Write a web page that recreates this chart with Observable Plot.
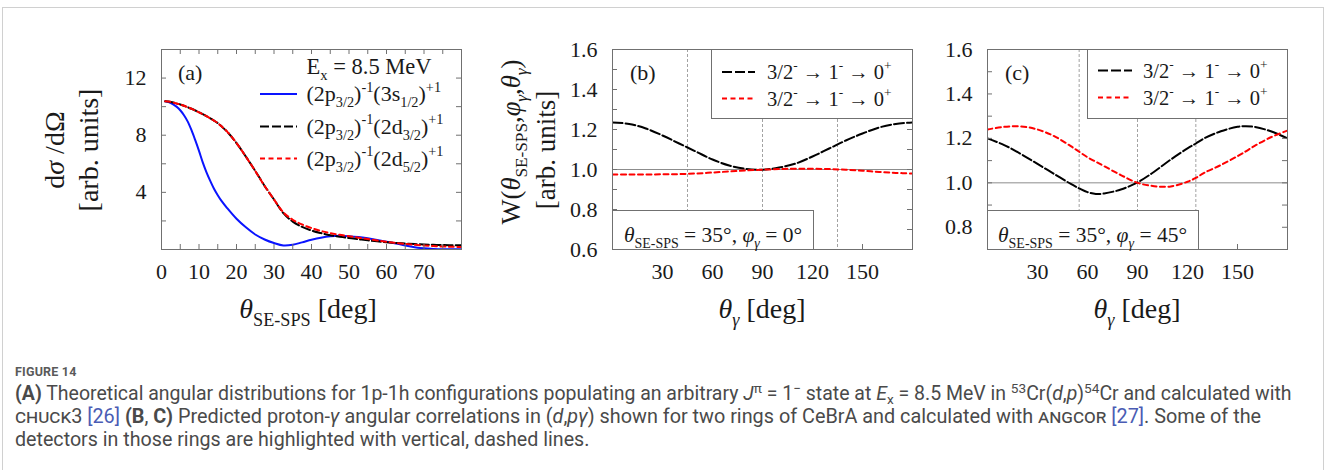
<!DOCTYPE html>
<html>
<head>
<meta charset="utf-8">
<script src="https://cdn.jsdelivr.net/npm/d3@7"></script>
<script src="https://cdn.jsdelivr.net/npm/@observablehq/plot@0.6"></script>
<style>
html,body{margin:0;padding:0;background:#fff;}
#root{position:relative;width:1326px;height:470px;overflow:hidden;background:#fff;}
#card{position:absolute;left:2px;top:7px;width:1322px;height:600px;border:1px solid #d0d0d0;box-sizing:border-box;}
#cap{position:absolute;left:15px;top:361px;font-family:Roboto,"Open Sans",sans-serif;color:#4a4a4a;}
.fig{font-size:12.5px;font-weight:700;color:#5a5a5a;letter-spacing:0.2px;height:21px;line-height:21px;}
.cl{font-size:16px;white-space:nowrap;height:23px;line-height:23px;}
.cl sup,.cl sub{font-size:0.7em;position:relative;vertical-align:baseline;}
.cl sup{top:-0.5em;}
.cl sub{top:0.3em;}
.ref{color:#4a5cb4;}
.sc{font-variant:small-caps;}
</style>
</head>
<body>
<div id="root">
  <div id="card"></div>
  <div id="cap">
    <div class="fig">FIGURE 14</div>
    <div class="cl" id="l1"><b>(A)</b> Theoretical angular distributions for 1p-1h configurations populating an arbitrary <i>J</i><sup>π</sup> = 1<sup>−</sup> state at <i>E</i><sub>x</sub> = 8.5 MeV in <sup>53</sup>Cr(<i>d</i>,<i>p</i>)<sup>54</sup>Cr and calculated with</div>
    <div class="cl" id="l2"><span class="sc">chuck3</span> <span class="ref">[26]</span> <b>(B</b>, <b>C)</b> Predicted proton-<i>γ</i> angular correlations in (<i>d</i>,<i>pγ</i>) shown for two rings of CeBrA and calculated with <span class="sc">angcor</span> <span class="ref">[27]</span>. Some of the</div>
    <div class="cl" id="l3">detectors in those rings are highlighted with vertical, dashed lines.</div>
  </div>
</div>
<script>
// ---------------- data ----------------
// Panel (a): dσ/dΩ vs θ_SE-SPS
const thetaA = [1,2.5,4,5,6,7,8,9,10,11,12,13,14,15,16,17.5,20,22.5,25,27.5,30,32.5,35,37.5,40,42.5,45,47.5,50,52.5,55,57.5,60,62.5,65,67.5,70,72.5,75,77.5,80];
const sig3s12 = [10.37,10.25,10.0,9.75,9.4,8.95,8.35,7.65,6.9,6.1,5.4,4.8,4.25,3.8,3.4,2.9,2.15,1.55,1.05,0.7,0.45,0.28,0.33,0.5,0.68,0.83,0.93,0.96,0.93,0.87,0.78,0.67,0.55,0.42,0.28,0.16,0.08,0.04,0.02,0.02,0.02];
const sig2d32 = [10.37,10.33,10.22,10.15,10.06,9.96,9.85,9.73,9.6,9.47,9.33,9.18,9.02,8.85,8.62,8.25,7.45,6.5,5.5,4.45,3.5,2.55,1.95,1.58,1.33,1.15,1.0,0.9,0.8,0.72,0.64,0.57,0.51,0.46,0.42,0.38,0.35,0.33,0.31,0.3,0.29];
const sig2d52 = [10.37,10.33,10.22,10.15,10.06,9.96,9.85,9.73,9.6,9.47,9.33,9.18,9.02,8.85,8.62,8.25,7.45,6.5,5.5,4.45,3.5,2.6,2.08,1.75,1.5,1.3,1.15,1.03,0.93,0.83,0.73,0.63,0.54,0.46,0.39,0.33,0.28,0.24,0.21,0.19,0.18];
const aXTicks = [0,10,20,30,40,50,60,70];
const aXMinor = [5,10,15,20,25,30,35,40,45,50,55,60,65,70,75];
const aYTicks = [4,8,12];
const aYMinor = [2,4,6,8,10,12];

// Panel (b): W at φγ = 0°
const thetaB = [0,10,20,30,40,50,60,70,80,90,100,110,120,130,140,150,160,170,180];
const wB_black = [1.235,1.228,1.205,1.17,1.13,1.09,1.05,1.02,1.003,0.999,1.01,1.03,1.065,1.105,1.145,1.18,1.21,1.228,1.235];
const wB_red = [0.975,0.975,0.975,0.976,0.977,0.98,0.985,0.99,0.995,0.999,1.002,1.004,1.004,1.002,0.999,0.994,0.988,0.983,0.98];
const detB = [45,90,135];

// Panel (c): W at φγ = 45°
const thetaC = [0,10,20,30,40,50,55,60,65,70,80,90,100,110,120,125,130,140,150,155,160,170,180];
const wC_black = [1.2,1.17,1.13,1.085,1.04,0.995,0.975,0.958,0.95,0.952,0.97,1.002,1.05,1.105,1.155,1.177,1.2,1.232,1.252,1.255,1.252,1.232,1.2];
const wC_red = [1.24,1.252,1.254,1.24,1.21,1.165,1.14,1.115,1.095,1.075,1.035,1.0,0.985,0.984,1.005,1.022,1.045,1.08,1.12,1.142,1.165,1.205,1.235];
const detC = [55,90,125];

const gXTicks = [30,60,90,120,150];
const gXMinor = [30,60,90,120,150];
const bYTicks = [0.6,0.8,1.0,1.2,1.4,1.6];
const bYMinor = [0.7,0.8,0.9,1.0,1.1,1.2,1.3,1.4,1.5];
const cYTicks = [0.8,1.0,1.2,1.4,1.6];
const cYMinor = [0.8,0.9,1.0,1.1,1.2,1.3,1.4,1.5];

// ---------------- styles ----------------
const SERIF = "'Liberation Serif','DejaVu Serif',serif";
const FRAME = "#707070";
const BLUE = "#0a14ff", RED = "#ff0000", BLACK = "#000000";
const DASH_BLACK = "10,3", DASH_RED = "5,3.5";
const W = 300, H = 200, ML = 70, MT = 20;

function panel({left, xDomain, yDomain, xTicks, xMinor, yTicks, yMinor, yFmt, topTicks, marks}) {
  const p = Plot.plot({
    width: W + ML + 20, height: H + MT + 90,
    marginLeft: ML, marginRight: 20, marginTop: MT, marginBottom: 90,
    style: {fontFamily: SERIF, fontSize: "22px", color: "#1a1a1a", background: "transparent", overflow: "visible"},
    x: {domain: xDomain},
    y: {domain: yDomain},
    marks: [
      ...marks,
      Plot.tickY(yMinor, {y: d => d, insetRight: W - 5, stroke: FRAME}),
      Plot.tickY(yMinor, {y: d => d, insetLeft: W - 5, stroke: FRAME}),
      Plot.tickX(xMinor, {x: d => d, insetTop: H - 5, stroke: FRAME}),
      topTicks ? Plot.tickX(xMinor, {x: d => d, insetBottom: H - 5, stroke: FRAME}) : null,
      Plot.axisX(xTicks, {tickSize: 0, tickPadding: 14, fontSize: 22, label: null}),
      Plot.axisY(yTicks, {tickSize: 0, tickPadding: 15, fontSize: 22, label: null, tickFormat: yFmt}),
      Plot.frame({stroke: FRAME})
    ]
  });
  p.style.position = "absolute";
  p.style.left = (left - ML) + "px";
  p.style.top = (49 - MT) + "px";
  document.getElementById("root").appendChild(p);
  return p;
}

const rowsA = thetaA.map((t, i) => ({t, s: sig3s12[i], d3: sig2d32[i], d5: sig2d52[i]}));
panel({
  left: 161, xDomain: [0, 80], yDomain: [0, 14],
  xTicks: aXTicks, xMinor: aXMinor, yTicks: aYTicks, yMinor: aYMinor, yFmt: d3.format("d"), topTicks: true,
  marks: [
    Plot.line(rowsA, {x: "t", y: "s", stroke: BLUE, strokeWidth: 2, curve: "catmull-rom", clip: true}),
    Plot.line(rowsA, {x: "t", y: "d3", stroke: BLACK, strokeWidth: 2, strokeDasharray: "9,3", curve: "catmull-rom", clip: true}),
    Plot.line(rowsA, {x: "t", y: "d5", stroke: RED, strokeWidth: 2, strokeDasharray: DASH_RED, curve: "catmull-rom", clip: true})
  ]
});

const rowsB = thetaB.map((t, i) => ({t, k: wB_black[i], r: wB_red[i]}));
panel({
  left: 612, xDomain: [0, 180], yDomain: [0.6, 1.6],
  xTicks: gXTicks, xMinor: gXMinor, yTicks: bYTicks, yMinor: bYMinor, yFmt: d3.format(".1f"), topTicks: false,
  marks: [
    Plot.ruleY([1.0], {stroke: "#8c8c8c", strokeWidth: 1}),
    Plot.ruleX(detB, {stroke: "#8a8a8a", strokeWidth: 0.8, strokeDasharray: "3,2"}),
    Plot.line(rowsB, {x: "t", y: "k", stroke: BLACK, strokeWidth: 2, strokeDasharray: DASH_BLACK, curve: "catmull-rom", clip: true}),
    Plot.line(rowsB, {x: "t", y: "r", stroke: RED, strokeWidth: 2, strokeDasharray: DASH_RED, curve: "catmull-rom", clip: true})
  ]
});

const rowsC = thetaC.map((t, i) => ({t, k: wC_black[i], r: wC_red[i]}));
panel({
  left: 987, xDomain: [0, 180], yDomain: [0.7, 1.6],
  xTicks: gXTicks, xMinor: gXMinor, yTicks: cYTicks, yMinor: cYMinor, yFmt: d3.format(".1f"), topTicks: false,
  marks: [
    Plot.ruleY([1.0], {stroke: "#8c8c8c", strokeWidth: 1}),
    Plot.ruleX(detC, {stroke: "#8a8a8a", strokeWidth: 0.8, strokeDasharray: "3,2"}),
    Plot.line(rowsC, {x: "t", y: "k", stroke: BLACK, strokeWidth: 2, strokeDasharray: DASH_BLACK, curve: "catmull-rom", clip: true}),
    Plot.line(rowsC, {x: "t", y: "r", stroke: RED, strokeWidth: 2, strokeDasharray: DASH_RED, curve: "catmull-rom", clip: true})
  ]
});

// ---------------- annotation overlay ----------------
const ov = d3.select("#root").append("svg")
  .attr("width", 1326).attr("height", 470)
  .style("position", "absolute").style("left", "0px").style("top", "0px");

function txt(x, y, parts, size, anchor = "start", rotate = 0) {
  const t = ov.append("text")
    .attr("transform", `translate(${x},${y})` + (rotate ? ` rotate(${rotate})` : ""))
    .attr("font-family", SERIF).attr("font-size", size).attr("fill", "#1a1a1a")
    .attr("text-anchor", anchor);
  let cur = 0;
  for (const [s, m = ""] of parts) {
    const ts = t.append("tspan").text(s);
    const off = m.includes("sub") ? 0.28 * size : m.includes("sup") ? -0.42 * size : 0;
    if (off !== cur) { ts.attr("dy", off - cur); cur = off; }
    if (m.includes("sub") || m.includes("sup")) ts.attr("font-size", size * 0.65);
    if (m.includes("i")) ts.attr("font-style", "italic");
  }
  return t;
}
function box(x0, y0, x1, y1) {
  ov.append("rect").attr("x", x0 + 0.5).attr("y", y0 + 0.5).attr("width", x1 - x0).attr("height", y1 - y0)
    .attr("fill", "#fff").attr("stroke", FRAME).attr("stroke-width", 1);
}
function sample(x0, x1, y, color, dash) {
  ov.append("line").attr("x1", x0).attr("x2", x1).attr("y1", y).attr("y2", y)
    .attr("stroke", color).attr("stroke-width", 2).attr("stroke-dasharray", dash || null);
}

// panel labels
txt(178, 80, [["(a)"]], 22);
txt(630, 80, [["(b)"]], 22);
txt(1005, 80, [["(c)"]], 22);

// legend (a)
txt(306.5, 74, [["E"], ["x", "sub"], [" = 8.5 MeV"]], 22.5);
const cfg = (orb) => [["(2p"], ["3/2", "sub"], [")"], ["-1", "sup"], ["(" + orb[0]], [orb[1], "sub"], [")"], ["+1", "sup"]];
sample(260, 297, 94, BLUE, null);
txt(306.5, 101, cfg(["3s", "1/2"]), 22);
sample(260, 297, 126.5, BLACK, "9,3");
txt(306.5, 133.5, cfg(["2d", "3/2"]), 22);
sample(260, 297, 158.5, RED, DASH_RED);
txt(306.5, 165.5, cfg(["2d", "5/2"]), 22);

// legends (b), (c)
const trans = [["3/2"], ["-", "sup"], [" → 1"], ["-", "sup"], [" → 0"], ["+", "sup"]];
box(711, 49, 912, 118);
sample(722, 755, 72, BLACK, DASH_BLACK);
txt(767, 79, trans, 20.5);
sample(722, 755, 98.5, RED, DASH_RED);
txt(767, 105.5, trans, 20.5);
box(612, 210, 813, 249);
txt(713, 242, [["θ", "i"], ["SE-SPS", "sub"], [" = 35°, "], ["φ", "i"], ["γ", "subi"], [" = 0°"]], 21.5, "middle");

box(1087, 49, 1287, 118);
sample(1098, 1132, 70.5, BLACK, DASH_BLACK);
txt(1143, 78, trans, 20.5);
sample(1098, 1132, 97.5, RED, DASH_RED);
txt(1143, 105, trans, 20.5);
box(987, 210, 1198, 249);
txt(1092.5, 242, [["θ", "i"], ["SE-SPS", "sub"], [" = 35°, "], ["φ", "i"], ["γ", "subi"], [" = 45°"]], 21.5, "middle");

// axis titles
txt(64, 150, [["d"], ["σ", "i"], [" /d"], ["Ω"]], 28, "middle", -90);
txt(98, 150, [["[arb. units]"]], 28, "middle", -90);
txt(520, 142, [["W("], ["θ", "i"], ["SE-SPS", "sub"], [","], ["φ", "i"], ["γ", "subi"], [","], ["θ", "i"], ["γ", "subi"], [")"]], 26.5, "middle", -90);
txt(555, 150, [["[arb. units]"]], 27, "middle", -90);
txt(308, 318, [["θ", "i"], ["SE-SPS", "sub"], [" [deg]"]], 28, "middle");
txt(762, 318, [["θ", "i"], ["γ", "subi"], [" [deg]"]], 28, "middle");
txt(1137, 318, [["θ", "i"], ["γ", "subi"], [" [deg]"]], 28, "middle");

// caption fitting (font size scaled so that each line spans the same width as in the figure)
function fit(id, target) {
  const el = document.getElementById(id);
  const span = document.createElement("span");
  while (el.firstChild) span.appendChild(el.firstChild);
  el.appendChild(span);
  const w = span.getBoundingClientRect().width;
  const fs = 16 * target / w;
  el.style.fontSize = fs + "px";
  return fs;
}
const f1 = fit("l1", 1277);
const f2 = fit("l2", 1247);
document.getElementById("l3").style.fontSize = ((f1 + f2) / 2) + "px";
</script>
</body>
</html>
